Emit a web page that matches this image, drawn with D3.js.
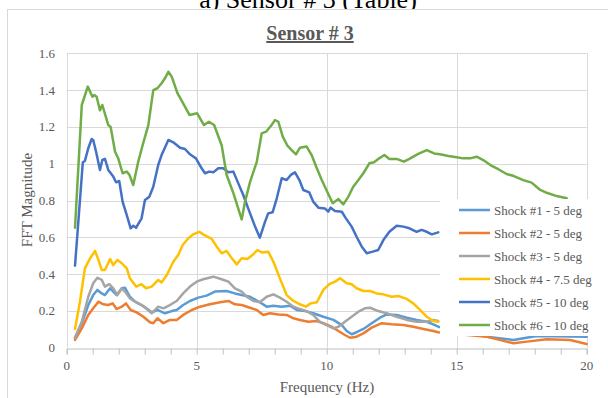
<!DOCTYPE html>
<html>
<head>
<meta charset="utf-8">
<script src="https://cdn.jsdelivr.net/npm/d3@7"></script>
<style>
    body { margin: 0; background: #fff; }
    svg, svg text { font-family: "Liberation Serif", "Times New Roman", serif; }
</style>
</head>
<body>
<div id="chart"></div>
<script>

// data: [frequency (Hz), FFT magnitude]
var shock1 = [[0.32,0.054],[0.58,0.133],[0.83,0.232],[1.02,0.286],[1.18,0.314],[1.35,0.295],[1.47,0.286],[1.67,0.323],[1.79,0.305],[1.92,0.286],[2.12,0.323],[2.24,0.326],[2.43,0.277],[2.63,0.25],[2.88,0.232],[3.1,0.21],[3.27,0.192],[3.49,0.205],[3.78,0.187],[4.04,0.199],[4.23,0.205],[4.48,0.232],[4.74,0.254],[5.06,0.272],[5.38,0.283],[5.7,0.305],[6.15,0.308],[6.47,0.295],[6.73,0.286],[7.05,0.277],[7.43,0.247],[7.69,0.223],[7.95,0.228],[8.27,0.223],[8.59,0.228],[8.85,0.205],[9.17,0.199],[9.48,0.187],[9.87,0.168],[10.26,0.151],[10.58,0.123],[10.77,0.091],[10.96,0.073],[11.15,0.084],[11.41,0.102],[11.73,0.133],[12.05,0.163],[12.31,0.181],[12.69,0.178],[13.08,0.163],[13.46,0.151],[13.85,0.141],[14.1,0.127],[14.29,0.114],[16.15,0.06],[17.18,0.042],[18.08,0.064],[20,0.06]];

var shock2 = [[0.32,0.042],[0.58,0.105],[0.83,0.178],[1.02,0.214],[1.22,0.25],[1.41,0.236],[1.6,0.232],[1.77,0.241],[1.92,0.21],[2.12,0.223],[2.28,0.241],[2.46,0.205],[2.69,0.192],[2.95,0.168],[3.2,0.138],[3.33,0.133],[3.49,0.16],[3.72,0.133],[3.97,0.151],[4.23,0.151],[4.48,0.178],[4.81,0.205],[5.13,0.223],[5.51,0.236],[5.9,0.247],[6.22,0.254],[6.47,0.236],[6.73,0.232],[7.05,0.217],[7.31,0.205],[7.56,0.178],[7.82,0.187],[8.14,0.181],[8.46,0.178],[8.72,0.16],[8.97,0.151],[9.29,0.141],[9.62,0.145],[9.87,0.133],[10.19,0.114],[10.45,0.091],[10.7,0.069],[10.9,0.054],[11.15,0.06],[11.41,0.078],[11.73,0.109],[12.12,0.133],[12.5,0.127],[12.95,0.123],[13.33,0.114],[13.72,0.102],[14.1,0.091],[14.29,0.084],[16.15,0.06],[17.18,0.024],[17.7,0.033],[18.46,0.046],[19.36,0.042],[20,0.02]];

var shock3 = [[0.32,0.054],[0.58,0.141],[0.83,0.277],[1.02,0.35],[1.18,0.38],[1.35,0.368],[1.47,0.332],[1.64,0.345],[1.79,0.323],[1.95,0.286],[2.12,0.323],[2.24,0.305],[2.43,0.268],[2.63,0.25],[2.88,0.232],[3.08,0.21],[3.27,0.187],[3.52,0.223],[3.72,0.214],[3.97,0.232],[4.23,0.254],[4.48,0.295],[4.74,0.332],[5.0,0.359],[5.25,0.372],[5.64,0.386],[5.96,0.372],[6.22,0.359],[6.47,0.323],[6.73,0.305],[6.92,0.277],[7.18,0.254],[7.43,0.247],[7.69,0.277],[7.95,0.29],[8.2,0.272],[8.46,0.25],[8.72,0.223],[8.97,0.21],[9.23,0.199],[9.48,0.178],[9.74,0.141],[10.0,0.123],[10.26,0.105],[10.45,0.114],[10.7,0.141],[10.96,0.168],[11.22,0.196],[11.47,0.214],[11.67,0.217],[11.98,0.199],[12.31,0.187],[12.69,0.168],[13.08,0.151],[13.46,0.141],[13.85,0.141],[14.1,0.151],[14.29,0.145]];

var shock4 = [[0.32,0.102],[0.51,0.25],[0.7,0.431],[0.9,0.486],[1.09,0.526],[1.22,0.477],[1.35,0.422],[1.47,0.422],[1.67,0.482],[1.79,0.449],[1.95,0.477],[2.12,0.459],[2.31,0.431],[2.43,0.377],[2.67,0.332],[2.88,0.345],[3.05,0.323],[3.27,0.332],[3.52,0.368],[3.65,0.355],[3.85,0.395],[4.1,0.467],[4.29,0.504],[4.46,0.558],[4.68,0.595],[4.87,0.616],[5.1,0.63],[5.28,0.613],[5.58,0.591],[5.77,0.549],[5.96,0.513],[6.15,0.526],[6.35,0.486],[6.54,0.453],[6.73,0.486],[6.95,0.482],[7.18,0.508],[7.33,0.531],[7.5,0.518],[7.75,0.522],[7.95,0.467],[8.2,0.377],[8.46,0.286],[8.72,0.254],[8.97,0.236],[9.2,0.223],[9.38,0.241],[9.62,0.247],[9.87,0.314],[10.1,0.345],[10.32,0.359],[10.51,0.377],[10.77,0.35],[10.96,0.345],[11.15,0.323],[11.41,0.308],[11.67,0.308],[11.92,0.295],[12.18,0.29],[12.5,0.277],[12.75,0.281],[13.08,0.265],[13.33,0.241],[13.59,0.205],[13.85,0.168],[14.1,0.145],[14.29,0.141]];

var shock5 = [[0.32,0.446],[0.62,1.008],[0.7,1.015],[0.83,1.084],[0.96,1.134],[1.02,1.129],[1.13,1.065],[1.28,0.966],[1.37,1.02],[1.47,1.026],[1.6,0.966],[1.79,0.93],[1.9,0.899],[2.02,0.906],[2.15,0.794],[2.31,0.721],[2.46,0.649],[2.56,0.663],[2.67,0.652],[2.88,0.703],[3.01,0.803],[3.18,0.821],[3.33,0.875],[3.52,0.993],[3.65,1.047],[3.91,1.129],[4.1,1.116],[4.36,1.087],[4.55,1.08],[4.74,1.051],[4.97,1.029],[5.19,0.975],[5.32,0.948],[5.48,0.957],[5.64,0.953],[5.83,0.975],[6.02,0.975],[6.22,0.953],[6.41,0.957],[6.6,0.893],[6.79,0.83],[6.98,0.757],[7.24,0.66],[7.43,0.598],[7.63,0.685],[7.75,0.73],[7.92,0.736],[8.08,0.812],[8.27,0.921],[8.46,0.911],[8.62,0.939],[8.78,0.953],[8.95,0.911],[9.1,0.857],[9.33,0.844],[9.48,0.794],[9.68,0.761],[9.93,0.757],[10.06,0.739],[10.15,0.761],[10.32,0.743],[10.58,0.739],[10.74,0.703],[10.96,0.658],[11.15,0.603],[11.35,0.549],[11.54,0.513],[11.77,0.522],[11.98,0.531],[12.18,0.585],[12.41,0.63],[12.69,0.663],[12.95,0.658],[13.18,0.649],[13.46,0.63],[13.65,0.64],[13.85,0.63],[14.04,0.616],[14.29,0.627]];

var shock6 = [[0.32,0.652],[0.58,1.319],[0.81,1.419],[0.99,1.364],[1.06,1.373],[1.15,1.364],[1.28,1.29],[1.37,1.319],[1.6,1.21],[1.69,1.2],[1.86,1.065],[1.98,1.03],[2.15,0.948],[2.31,0.957],[2.41,0.94],[2.56,0.884],[2.75,1.01],[2.92,1.1],[3.14,1.21],[3.33,1.4],[3.49,1.41],[3.65,1.437],[3.78,1.464],[3.91,1.5],[4.04,1.473],[4.26,1.383],[4.48,1.328],[4.72,1.265],[5.02,1.274],[5.28,1.21],[5.47,1.228],[5.67,1.21],[5.96,1.1],[6.15,0.94],[6.41,0.84],[6.73,0.697],[6.86,0.794],[7.05,0.9],[7.31,1.01],[7.5,1.165],[7.67,1.174],[7.88,1.21],[8.01,1.237],[8.14,1.228],[8.31,1.147],[8.48,1.1],[8.65,1.074],[8.82,1.051],[8.97,1.087],[9.23,1.093],[9.42,1.047],[9.62,0.975],[9.81,0.911],[10.02,0.848],[10.23,0.785],[10.45,0.808],[10.64,0.779],[10.83,0.82],[11.02,0.875],[11.22,0.911],[11.41,0.948],[11.64,1.002],[11.82,1.008],[12.02,1.029],[12.22,1.047],[12.41,1.026],[12.69,1.026],[12.97,1.011],[13.18,1.026],[13.52,1.053],[13.85,1.074],[14.13,1.056],[14.36,1.051],[14.68,1.042],[15.0,1.035],[15.25,1.029],[15.51,1.029],[15.77,1.038],[16.02,1.02],[16.35,0.988],[16.6,0.97],[16.92,0.944],[17.2,0.933],[17.56,0.911],[17.88,0.897],[18.18,0.861],[18.46,0.842],[18.85,0.824],[19.23,0.812]];

var seriesNames = ["Shock #1 - 5 deg", "Shock #2 - 5 deg", "Shock #3 - 5 deg",
                   "Shock #4 - 7.5 deg", "Shock #5 - 10 deg", "Shock #6 - 10 deg"];
var seriesColors = ["#5B9BD5", "#ED7D31", "#A5A5A5", "#FFC000", "#4472C4", "#70AD47"];
var xTicks = [0, 5, 10, 15, 20];
var xMinorTicks = d3.range(0, 21, 1);
var yTicks = [0, 0.2, 0.4, 0.6, 0.8, 1, 1.2, 1.4, 1.6];

//--------------------------------------------------------------------------
//
// chart
//

var outerWidth = 608,
    outerHeight = 398,
    plot = {left: 66.7, right: 586.7, top: 53.3, bottom: 347.7},
    textColor = "#595959",
    serif = "'Liberation Serif', 'Times New Roman', serif";

var svg = d3.select("#chart").append("svg")
    .attr("width", outerWidth)
    .attr("height", outerHeight)
    .attr("font-family", serif);

// caption of the figure above, cut off at the top of the picture
svg.append("text")
    .attr("x", 308)
    .attr("y", 8)
    .attr("text-anchor", "middle")
    .attr("font-family", serif)
    .style("font-size", "26px")
    .style("fill", "#000")
    .text("a) Sensor # 3 (Table)");

// chart border
svg.append("rect")
    .attr("x", 7.5)
    .attr("y", 9.5)
    .attr("width", 620)
    .attr("height", 420)
    .attr("fill", "#fff")
    .attr("stroke", "#D9D9D9");

var xScale = d3.scaleLinear().domain([0, 20]).range([plot.left, plot.right]);
var yScale = d3.scaleLinear().domain([0, 1.6]).range([plot.bottom, plot.top]);

// gridlines
svg.append("g")
    .selectAll("line")
    .data(yTicks.slice(1))
    .enter().append("line")
    .attr("x1", plot.left)
    .attr("x2", plot.right)
    .attr("y1", function (d) { return Math.round(yScale(d)) + 0.5; })
    .attr("y2", function (d) { return Math.round(yScale(d)) + 0.5; })
    .attr("stroke", "#D9D9D9");

svg.append("g")
    .selectAll("line")
    .data(xTicks)
    .enter().append("line")
    .attr("x1", function (d) { return Math.round(xScale(d)) + 0.5; })
    .attr("x2", function (d) { return Math.round(xScale(d)) + 0.5; })
    .attr("y1", plot.top)
    .attr("y2", plot.bottom)
    .attr("stroke", "#D9D9D9");

// x axis (minor ticks every 1 Hz, labels every 5)
var xAxis = svg.append("g")
    .attr("transform", "translate(0," + (Math.round(plot.bottom) + 0.5) + ")")
    .call(d3.axisBottom(xScale).tickValues(xMinorTicks).tickSize(6).tickFormat(""));
xAxis.select(".domain").attr("stroke", "#BFBFBF");
xAxis.selectAll(".tick line").attr("stroke", "#BFBFBF");

svg.append("g")
    .selectAll("text")
    .data(xTicks)
    .enter().append("text")
    .attr("x", function (d) { return xScale(d); })
    .attr("y", 370)
    .attr("text-anchor", "middle")
    .attr("font-family", serif)
    .style("font-size", "13px")
    .style("fill", textColor)
    .text(function (d) { return d; });

// y axis labels
svg.append("g")
    .selectAll("text")
    .data(yTicks)
    .enter().append("text")
    .attr("x", 55)
    .attr("y", function (d) { return yScale(d) + 4.5; })
    .attr("text-anchor", "end")
    .attr("font-family", serif)
    .style("font-size", "13px")
    .style("fill", textColor)
    .text(function (d) { return d; });

// axis titles
svg.append("text")
    .attr("x", 327)
    .attr("y", 392)
    .attr("text-anchor", "middle")
    .attr("font-family", serif)
    .style("font-size", "15px")
    .style("fill", textColor)
    .text("Frequency (Hz)");

svg.append("text")
    .attr("transform", "translate(32,200) rotate(-90)")
    .attr("text-anchor", "middle")
    .attr("font-family", serif)
    .style("font-size", "15px")
    .style("fill", textColor)
    .text("FFT Magnitude");

// title
svg.append("text")
    .attr("x", 310)
    .attr("y", 40)
    .attr("text-anchor", "middle")
    .attr("font-family", serif)
    .style("font-size", "20px")
    .style("font-weight", "bold")
    .style("text-decoration", "underline")
    .style("fill", textColor)
    .text("Sensor # 3");

//--------------------------------------------------------------------------
//
// lines
//

var line = d3.line()
    .x(function (d) { return xScale(d[0]); })
    .y(function (d) { return yScale(d[1]); });

var allSeries = [shock1, shock2, shock3, shock4, shock5, shock6];

svg.append("g")
    .selectAll("path")
    .data(allSeries)
    .enter().append("path")
    .attr("d", line)
    .attr("fill", "none")
    .attr("stroke", function (d, i) { return seriesColors[i]; })
    .attr("stroke-width", 2.5)
    .attr("stroke-linejoin", "round")
    .attr("stroke-linecap", "round");

//--------------------------------------------------------------------------
//
// legend
//

var legend = svg.append("g");

legend.append("rect")
    .attr("x", 440)
    .attr("y", 199)
    .attr("width", 162)
    .attr("height", 137)
    .attr("fill", "#fff");

var items = legend.selectAll("g")
    .data(seriesNames)
    .enter().append("g")
    .attr("transform", function (d, i) { return "translate(0," + (210 + i * 23) + ")"; });

items.append("line")
    .attr("x1", 459)
    .attr("x2", 490)
    .attr("stroke", function (d, i) { return seriesColors[i]; })
    .attr("stroke-width", 2.5);

items.append("text")
    .attr("x", 494)
    .attr("y", 4.5)
    .attr("font-family", serif)
    .style("font-size", "13px")
    .style("fill", textColor)
    .text(function (d) { return d; });

</script>
</body>
</html>
